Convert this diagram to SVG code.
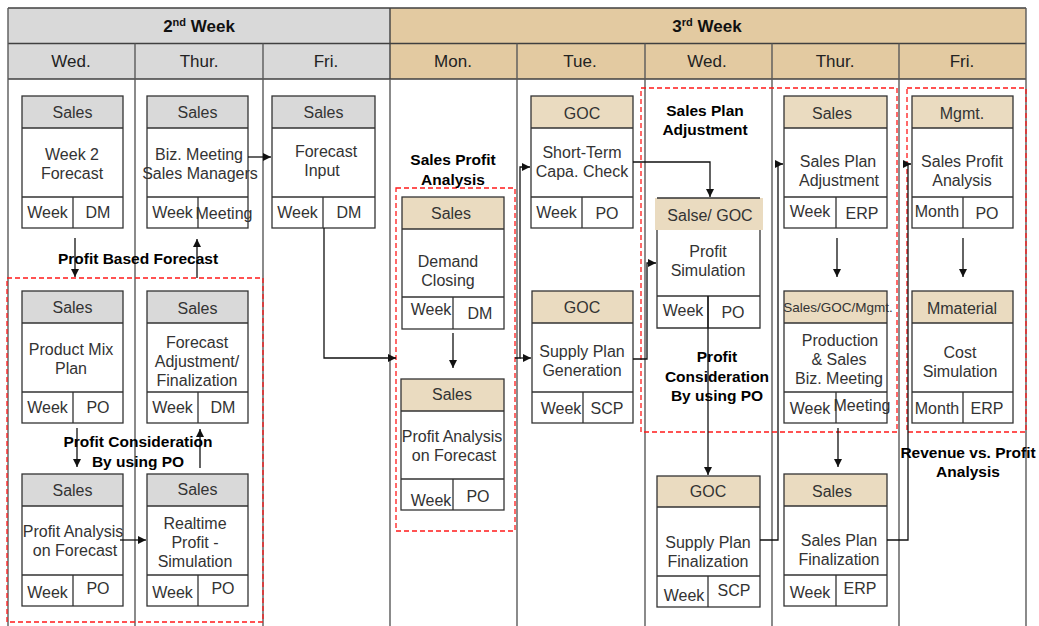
<svg xmlns="http://www.w3.org/2000/svg" width="1039" height="626" viewBox="0 0 1039 626">
<style>
.tl{stroke:#404040;stroke-width:1.4;fill:none}
.cl{stroke:#5a5a5a;stroke-width:1.4;fill:none}
.hw{font-family:"Liberation Sans",Arial,sans-serif;font-weight:bold;font-size:17px;fill:#111;text-anchor:middle}
.dy{font-family:"Liberation Sans",Arial,sans-serif;font-size:17px;fill:#222;text-anchor:middle}
.box{fill:none;stroke:#333;stroke-width:1.3}
.ln{fill:none;stroke:#333;stroke-width:1.3}
.hg{fill:#d9d9d9}
.ht{fill:#eadbc0}
.t{font-family:"Liberation Sans",Arial,sans-serif;font-size:16px;fill:#333;text-anchor:middle}
.ts{font-size:13.5px}
.lb{font-family:"Liberation Sans",Arial,sans-serif;font-weight:bold;font-size:15.5px;fill:#000;text-anchor:middle}
.rd{fill:none;stroke:#ff1a1a;stroke-width:1.3;stroke-dasharray:5 3}
.cn{fill:none;stroke:#111;stroke-width:1.3;marker-end:url(#ah)}
</style>
<defs>
<marker id="ah" viewBox="0 0 10 10" refX="10" refY="5" markerWidth="9" markerHeight="8" markerUnits="userSpaceOnUse" orient="auto">
<path d="M0,0 L10,5 L0,10 z" fill="#111"/>
</marker>
</defs>
<rect width="1039" height="626" fill="#fff"/>
<g id="table">
<rect x="8" y="8" width="382" height="71" fill="#d9d9d9"/>
<rect x="390" y="8" width="636" height="71" fill="#e3caa1"/>
<path class="tl" d="M8,8 H1026 M8,43.5 H1026 M8,79 H1026 M390,8 V79"/>
<path class="cl" d="M8,8 V626 M135,43.5 V626 M263,43.5 V626 M390,79 V626 M517,43.5 V626 M645,43.5 V626 M772,43.5 V626 M899,43.5 V626 M1026,8 V626"/>
<text class="hw" x="199" y="32">2<tspan font-size="11" dy="-6">nd</tspan><tspan dy="6"> Week</tspan></text>
<text class="hw" x="707" y="32">3<tspan font-size="11" dy="-6">rd</tspan><tspan dy="6"> Week</tspan></text>
<text class="dy" x="71" y="67">Wed.</text>
<text class="dy" x="199" y="67">Thur.</text>
<text class="dy" x="326" y="67">Fri.</text>
<text class="dy" x="453" y="67">Mon.</text>
<text class="dy" x="580" y="67">Tue.</text>
<text class="dy" x="707" y="67">Wed.</text>
<text class="dy" x="835" y="67">Thur.</text>
<text class="dy" x="962" y="67">Fri.</text>
</g>
<g id="groups">
<rect class="rd" x="7" y="278" width="256" height="344"/>
<rect class="rd" x="396" y="188" width="119" height="343"/>
<rect class="rd" x="641" y="88" width="256" height="344"/>
<rect class="rd" x="907" y="88" width="119" height="344"/>
</g>
<g id="n1" transform="translate(22,96)">
<rect class="hg" width="101" height="32"/><rect class="box" width="101" height="132"/>
<path class="ln" d="M0,32 H101 M0,101 H101 M51,101 V132"/>
<text class="t" x="50.5" y="22">Sales</text>
<text class="t" x="50" y="64">Week 2</text><text class="t" x="50" y="83">Forecast</text>
<text class="t" x="25.5" y="122">Week</text><text class="t" x="76" y="122">DM</text>
</g>
<g id="n2" transform="translate(147,96)">
<rect class="hg" width="101" height="32"/><rect class="box" width="101" height="132"/>
<path class="ln" d="M0,32 H101 M0,101 H101 M51,101 V132"/>
<text class="t" x="50.5" y="22">Sales</text>
<text class="t" x="52" y="64">Biz.  Meeting</text><text class="t" x="53" y="83">Sales Managers</text>
<text class="t" x="25.5" y="122">Week</text><text class="t" x="77" y="123">Meeting</text>
</g>
<g id="n3" transform="translate(272,96)">
<rect class="hg" width="103" height="32"/><rect class="box" width="103" height="132"/>
<path class="ln" d="M0,32 H103 M0,101 H103 M51,101 V132"/>
<text class="t" x="51.5" y="22">Sales</text>
<text class="t" x="54" y="61">Forecast</text><text class="t" x="50" y="80">Input</text>
<text class="t" x="25.5" y="122">Week</text><text class="t" x="77" y="122">DM</text>
</g>
<g id="n4" transform="translate(22,291)">
<rect class="hg" width="101" height="32"/><rect class="box" width="101" height="132"/>
<path class="ln" d="M0,32 H101 M0,101 H101 M51,101 V132"/>
<text class="t" x="50.5" y="22">Sales</text>
<text class="t" x="49" y="64">Product Mix</text><text class="t" x="49" y="83">Plan</text>
<text class="t" x="25.5" y="122">Week</text><text class="t" x="76" y="122">PO</text>
</g>
<g id="n5" transform="translate(147,291)">
<rect class="hg" width="101" height="32"/><rect class="box" width="101" height="132"/>
<path class="ln" d="M0,32 H101 M0,101 H101 M51,101 V132"/>
<text class="t" x="50.5" y="23">Sales</text>
<text class="t" x="50" y="57">Forecast</text><text class="t" x="50" y="76">Adjustment/</text><text class="t" x="50" y="95">Finalization</text>
<text class="t" x="25.5" y="122">Week</text><text class="t" x="76" y="122">DM</text>
</g>
<g id="n6" transform="translate(22,474)">
<rect class="hg" width="101" height="32"/><rect class="box" width="101" height="132"/>
<path class="ln" d="M0,32 H101 M0,101 H101 M51,101 V132"/>
<text class="t" x="50.5" y="22">Sales</text>
<text class="t" x="51" y="63">Profit  Analysis</text><text class="t" x="53" y="82">on Forecast</text>
<text class="t" x="25.5" y="124">Week</text><text class="t" x="76" y="120">PO</text>
</g>
<g id="n7" transform="translate(147,474)">
<rect class="hg" width="101" height="32"/><rect class="box" width="101" height="132"/>
<path class="ln" d="M0,32 H101 M0,101 H101 M51,101 V132"/>
<text class="t" x="50.5" y="21">Sales</text>
<text class="t" x="48" y="55">Realtime</text><text class="t" x="48" y="74">Profit  -</text><text class="t" x="48" y="93">Simulation</text>
<text class="t" x="25.5" y="124">Week</text><text class="t" x="76" y="120">PO</text>
</g>
<g id="n8" transform="translate(402,197)">
<rect class="ht" width="102" height="32"/><rect class="box" width="102" height="132"/>
<path class="ln" d="M0,32 H102 M0,100 H102 M51,100 V132"/>
<text class="t" x="49" y="22">Sales</text>
<text class="t" x="46" y="70">Demand</text><text class="t" x="46" y="89">Closing</text>
<text class="t" x="29" y="118">Week</text><text class="t" x="78" y="122">DM</text>
</g>
<g id="n9" transform="translate(401,379)">
<rect class="ht" width="103" height="32"/><rect class="box" width="103" height="131"/>
<path class="ln" d="M0,32 H103 M0,100 H103 M52,100 V131"/>
<text class="t" x="51" y="21">Sales</text>
<text class="t" x="51" y="63">Profit  Analysis</text><text class="t" x="53" y="82">on Forecast</text>
<text class="t" x="30" y="127">Week</text><text class="t" x="77" y="123">PO</text>
</g>
<g id="n10" transform="translate(531,96)">
<rect class="ht" width="102" height="32"/><rect class="box" width="102" height="132"/>
<path class="ln" d="M0,32 H102 M0,101 H102 M51,101 V132"/>
<text class="t" x="51" y="23">GOC</text>
<text class="t" x="51" y="62">Short-Term</text><text class="t" x="51" y="81">Capa. Check</text>
<text class="t" x="25.5" y="122">Week</text><text class="t" x="76" y="123">PO</text>
</g>
<g id="n11" transform="translate(532,291)">
<rect class="ht" width="101" height="32"/><rect class="box" width="101" height="132"/>
<path class="ln" d="M0,32 H101 M0,101 H101 M51,101 V132"/>
<text class="t" x="50" y="22">GOC</text>
<text class="t" x="50" y="66">Supply Plan</text><text class="t" x="50" y="85">Generation</text>
<text class="t" x="29" y="123">Week</text><text class="t" x="75" y="123">SCP</text>
</g>
<g id="n12" transform="translate(657,198)">
<rect class="ht" x="-2" width="108" height="32"/>
<path class="ln" d="M0,0 H103 M0,32 V130 H103 V32 M0,98 H103 M51,98 V130"/>
<text class="t" x="53" y="23">Salse/ GOC</text>
<text class="t" x="51" y="59">Profit</text><text class="t" x="51" y="78">Simulation</text>
<text class="t" x="26" y="118">Week</text><text class="t" x="76" y="120">PO</text>
</g>
<g id="n13" transform="translate(657,476)">
<rect class="ht" width="103" height="31"/><rect class="box" width="103" height="131"/>
<path class="ln" d="M0,31 H103 M0,100 H103 M51,100 V131"/>
<text class="t" x="51" y="21">GOC</text>
<text class="t" x="51" y="72">Supply Plan</text><text class="t" x="51" y="91">Finalization</text>
<text class="t" x="27" y="125">Week</text><text class="t" x="77" y="120">SCP</text>
</g>
<g id="n14" transform="translate(784,96)">
<rect class="ht" width="103" height="32"/><rect class="box" width="103" height="132"/>
<path class="ln" d="M0,32 H103 M0,101 H103 M52,101 V132"/>
<text class="t" x="48" y="23">Sales</text>
<text class="t" x="54" y="71">Sales Plan</text><text class="t" x="55" y="90">Adjustment</text>
<text class="t" x="26" y="121">Week</text><text class="t" x="78" y="123">ERP</text>
</g>
<g id="n15" transform="translate(784,291)">
<rect class="ht" width="103" height="32"/><rect class="box" width="103" height="132"/>
<path class="ln" d="M0,32 H103 M0,101 H103 M52,101 V132"/>
<text class="t ts" x="54" y="21">Sales/GOC/Mgmt.</text>
<text class="t" x="56" y="55">Production</text><text class="t" x="55" y="74">&amp; Sales</text><text class="t" x="55" y="93">Biz.  Meeting</text>
<text class="t" x="26" y="123">Week</text><text class="t" x="78" y="120">Meeting</text>
</g>
<g id="n16" transform="translate(784,474)">
<rect class="ht" width="103" height="32"/><rect class="box" width="103" height="132"/>
<path class="ln" d="M0,32 H103 M0,101 H103 M52,101 V132"/>
<text class="t" x="48" y="23">Sales</text>
<text class="t" x="55" y="72">Sales Plan</text><text class="t" x="55" y="91">Finalization</text>
<text class="t" x="26" y="124">Week</text><text class="t" x="76" y="120">ERP</text>
</g>
<g id="n17" transform="translate(912,96)">
<rect class="ht" width="101" height="32"/><rect class="box" width="101" height="132"/>
<path class="ln" d="M0,32 H101 M0,101 H101 M51,101 V132"/>
<text class="t" x="50" y="23">Mgmt.</text>
<text class="t" x="50" y="71">Sales Profit</text><text class="t" x="50" y="90">Analysis</text>
<text class="t" x="25" y="121">Month</text><text class="t" x="75" y="123">PO</text>
</g>
<g id="n18" transform="translate(912,291)">
<rect class="ht" width="101" height="32"/><rect class="box" width="101" height="132"/>
<path class="ln" d="M0,32 H101 M0,101 H101 M51,101 V132"/>
<text class="t" x="50" y="23">Mmaterial</text>
<text class="t" x="48" y="67">Cost</text><text class="t" x="48" y="86">Simulation</text>
<text class="t" x="25" y="123">Month</text><text class="t" x="75" y="123">ERP</text>
</g>
<g id="connectors">
<path class="cn" d="M75,238 V277"/>
<path class="cn" d="M197,278 V239"/>
<path class="cn" d="M248,157 H271"/>
<path class="cn" d="M324,228 V358 H396"/>
<path class="cn" d="M453,333 V368"/>
<path class="cn" d="M515,358 H520 V167 H530"/>
<path class="cn" d="M520,358 H531"/>
<path class="cn" d="M633,162 H710 V197"/>
<path class="cn" d="M633,359 H647 V263 H656"/>
<path class="cn" d="M708,296 V475"/>
<path class="cn" d="M760,540 H778 V164 H783"/>
<path class="cn" d="M837,238 V277"/>
<path class="cn" d="M838,428 V467"/>
<path class="cn" d="M887,540 H908 V164 H911"/>
<path class="cn" d="M963,238 V277"/>
<path class="cn" d="M77,428 V467"/>
<path class="cn" d="M200,468 V429"/>
<path class="cn" d="M120,540 H146"/>
</g>
<g id="labels">
<text class="lb" x="138" y="264">Profit Based Forecast</text>
<text class="lb" x="138" y="447">Profit Consideration</text>
<text class="lb" x="138" y="467">By using PO</text>
<text class="lb" x="453" y="165">Sales Profit</text>
<text class="lb" x="453" y="185">Analysis</text>
<text class="lb" x="705" y="116">Sales  Plan</text>
<text class="lb" x="705" y="135">Adjustment</text>
<text class="lb" x="717" y="362">Profit</text>
<text class="lb" x="717" y="382">Consideration</text>
<text class="lb" x="717" y="401">By using PO</text>
<text class="lb" x="968" y="458">Revenue vs. Profit</text>
<text class="lb" x="968" y="477">Analysis</text>
</g>
</svg>
